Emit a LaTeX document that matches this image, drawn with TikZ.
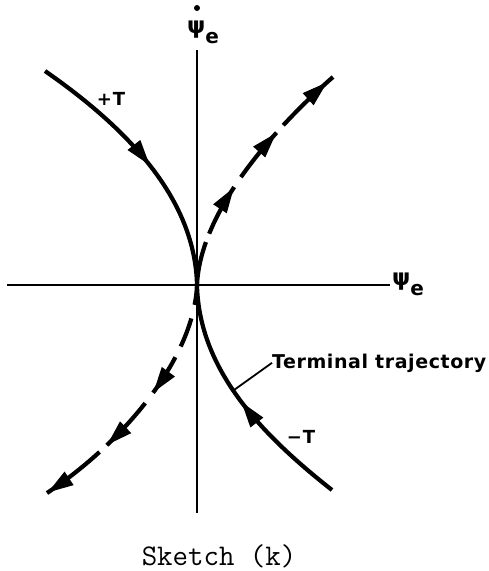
\documentclass[tikz,border=0pt]{standalone}
\usepackage{fontspec}
\setmainfont{DejaVu Sans}
\usetikzlibrary{arrows.meta,decorations.markings}
\begin{document}
\begin{tikzpicture}[x=1pt,y=-1pt,
  axis/.style={line width=2.4pt},
  traj/.style={line width=4.2pt},
  fwd/.tip={Triangle[length=26pt,width=15pt]},
  lbl/.style={inner sep=0pt,font=\fontsize{18}{21}\selectfont\bfseries\addfontfeature{LetterSpace=6}},
  psilbl/.style={inner sep=0pt,font=\fontsize{23}{26}\selectfont\bfseries},
  termlbl/.style={inner sep=0pt,font=\fontsize{19}{22}\selectfont\bfseries\addfontfeature{LetterSpace=3}},
  caplbl/.style={inner sep=0pt,font=\fontsize{30}{34}\selectfont\ttfamily}]
\useasboundingbox (0,0) rectangle (488,571);
% coordinates
\coordinate (O) at (197,285);
\coordinate (yt) at (197,50);
\coordinate (yb) at (197,513);
\coordinate (xl) at (7,285);
\coordinate (xr) at (390,285);
\coordinate (pT) at (45,71);
\coordinate (mT) at (332,490);
\coordinate (ur) at (333,77);
\coordinate (ll) at (47,493);
% axes
\draw[axis] (yt) -- (yb);
\draw[axis,line width=2pt] (xl) -- (xr);
% +T trajectory
\draw[traj,postaction={decorate,decoration={markings,
   mark=at position 0.52 with {\arrow{fwd}}}}]
  (pT) .. controls (130,130) and (195,200) .. (O);
% -T (terminal) trajectory
\draw[traj,postaction={decorate,decoration={markings,
   mark=at position 0.5 with {\arrow{fwd}}}}]
  (mT) .. controls (262,435) and (199,370) .. coordinate[pos=0.54] (tt) (O);
% dashed trajectories
\draw[traj,dash pattern=on 44pt off 9pt on 53pt off 12pt on 57pt off 10pt on 80pt,
  postaction={solid,decorate,decoration={markings,
   mark=at position 106pt with {\arrow{fwd}},
   mark=at position 175pt with {\arrow{fwd}},
   mark=at position 247pt with {\arrow{fwd}}}}]
  (O) .. controls (200,215) and (267,135) .. (ur);
\draw[traj,dash pattern=on 20pt off 14pt on 30pt off 12pt on 42pt off 13pt on 57pt off 10pt on 80pt,
  postaction={solid,decorate,decoration={markings,
   mark=at position 118pt with {\arrow{fwd}},
   mark=at position 188pt with {\arrow{fwd}},
   mark=at position 0.998 with {\arrow{fwd}}}}]
  (O) .. controls (194,358) and (124,442) .. (ll);
% labels
\node[psilbl,anchor=base west] (ylab) at (187,33) {ψ\raisebox{-10pt}{\fontsize{20}{22}\selectfont e}};
\fill (197,8) circle[radius=3pt];
\node[psilbl,anchor=base west] (xlab) at (392,285) {ψ\raisebox{-10pt}{\fontsize{20}{22}\selectfont e}};
\node[lbl] (plab) at (111,99) {+T};
\node[lbl] (mlab) at (301,437) {−T};
\node[termlbl,anchor=base west] (term) at (272,368) {Terminal trajectory};
\draw[line width=1.8pt] (tt) -- (term.west);
\node[caplbl,anchor=base] (cap) at (219,565) {Sketch (k)};
\end{tikzpicture}
\end{document}
